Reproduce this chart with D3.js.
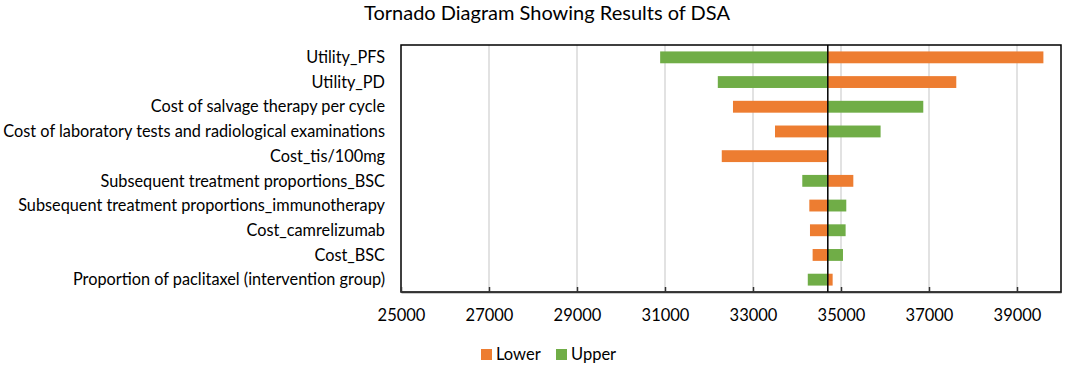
<!DOCTYPE html>
<html>
<head>
<meta charset="utf-8">
<script src="https://cdn.jsdelivr.net/npm/d3@7"></script>
<style>
  body { margin: 0; background: #fff; }
  svg { display: block; font-family: Lato, 'Open Sans', sans-serif; }
</style>
</head>
<body>
<svg id="chart" width="1065" height="366"></svg>
<script>
const PARAMS = [
  'Utility_PFS',
  'Utility_PD',
  'Cost of salvage therapy per cycle',
  'Cost of laboratory tests and radiological examinations',
  'Cost_tis/100mg',
  'Subsequent treatment proportions_BSC',
  'Subsequent treatment proportions_immunotherapy',
  'Cost_camrelizumab',
  'Cost_BSC',
  'Proportion of paclitaxel (intervention group)',
];
const BASE = 34700;
const LOWER = [39600, 37620, 32545, 33500, 32290, 35280, 34280, 34295, 34355, 34810];
const UPPER = [30890, 32200, 36870, 35900, 34700, 34120, 35120, 35105, 35045, 34245];
const X_TICKS = [25000, 27000, 29000, 31000, 33000, 35000, 37000, 39000];

const SVG = d3.select('#chart');
const LEFT = 401, RIGHT = 1061, TOP = 45, BOTTOM = 292;

const X = d3.scaleLinear().domain([25000, 40000]).range([LEFT, RIGHT]);
const Y = d3.scaleBand().domain(PARAMS).range([TOP, BOTTOM]).paddingInner(0.52).paddingOuter(0.26);

SVG.append('text')
  .attr('x', 547)
  .attr('y', 20)
  .attr('text-anchor', 'middle')
  .style('font-size', '20px')
  .style('fill', '#000')
  .text('Tornado Diagram Showing Results of DSA');

// gridlines
SVG.append('g')
  .selectAll('line')
  .data(X_TICKS.slice(1))
  .join('line')
  .attr('x1', (d) => X(d))
  .attr('x2', (d) => X(d))
  .attr('y1', TOP)
  .attr('y2', BOTTOM)
  .style('stroke', '#d9d9d9')
  .style('stroke-width', 1.5);

// bars
const ROWS = PARAMS.map((p, i) => ({ p, lower: LOWER[i], upper: UPPER[i] }));
const bars = SVG.append('g');
[['lower', '#ed7d31'], ['upper', '#70ad47']].forEach(([k, c]) => {
  bars.append('g')
    .selectAll('rect')
    .data(ROWS)
    .join('rect')
    .attr('x', (d) => X(Math.min(d[k], BASE)))
    .attr('width', (d) => Math.abs(X(d[k]) - X(BASE)))
    .attr('y', (d) => Y(d.p))
    .attr('height', Y.bandwidth())
    .style('fill', c);
});

// base line
SVG.append('line')
  .attr('x1', X(BASE))
  .attr('x2', X(BASE))
  .attr('y1', TOP)
  .attr('y2', BOTTOM)
  .style('stroke', '#000')
  .style('stroke-width', 1.5);

// frame
SVG.append('rect')
  .attr('x', LEFT)
  .attr('y', TOP)
  .attr('width', RIGHT - LEFT)
  .attr('height', BOTTOM - TOP)
  .style('fill', 'none')
  .style('stroke', '#000')
  .style('stroke-width', 1.5);

// x axis
const xAxis = SVG.append('g')
  .attr('transform', `translate(0,${BOTTOM})`)
  .call(d3.axisBottom(X).tickValues(X_TICKS).tickSizeInner(-5).tickSizeOuter(0).tickPadding(17).tickFormat(d3.format('d')));
xAxis.select('.domain').style('stroke', '#333').style('stroke-width', 1.5);
xAxis.selectAll('.tick line').style('stroke', '#333').style('stroke-width', 1.5);
xAxis.selectAll('text').style('font-size', '16.5px').style('fill', '#000').style('font-family', 'Lato, sans-serif');

// category labels
SVG.append('g')
  .selectAll('text')
  .data(PARAMS)
  .join('text')
  .attr('x', 385)
  .attr('y', (d) => Y(d) + Y.bandwidth() / 2)
  .attr('dy', '0.35em')
  .attr('text-anchor', 'end')
  .style('font-size', '16.3px')
  .style('fill', '#000')
  .text((d) => d);

// legend
const LEGEND = [['Lower', '#ed7d31', 481], ['Upper', '#70ad47', 556]];
const legend = SVG.append('g')
  .selectAll('g')
  .data(LEGEND)
  .join('g')
  .attr('transform', (d) => `translate(${d[2]},349)`);
legend.append('rect').attr('width', 11).attr('height', 11).style('fill', (d) => d[1]);
legend.append('text')
  .attr('x', 15)
  .attr('y', 11)
  .style('font-size', '16.5px')
  .text((d) => d[0]);
</script>
</body>
</html>
